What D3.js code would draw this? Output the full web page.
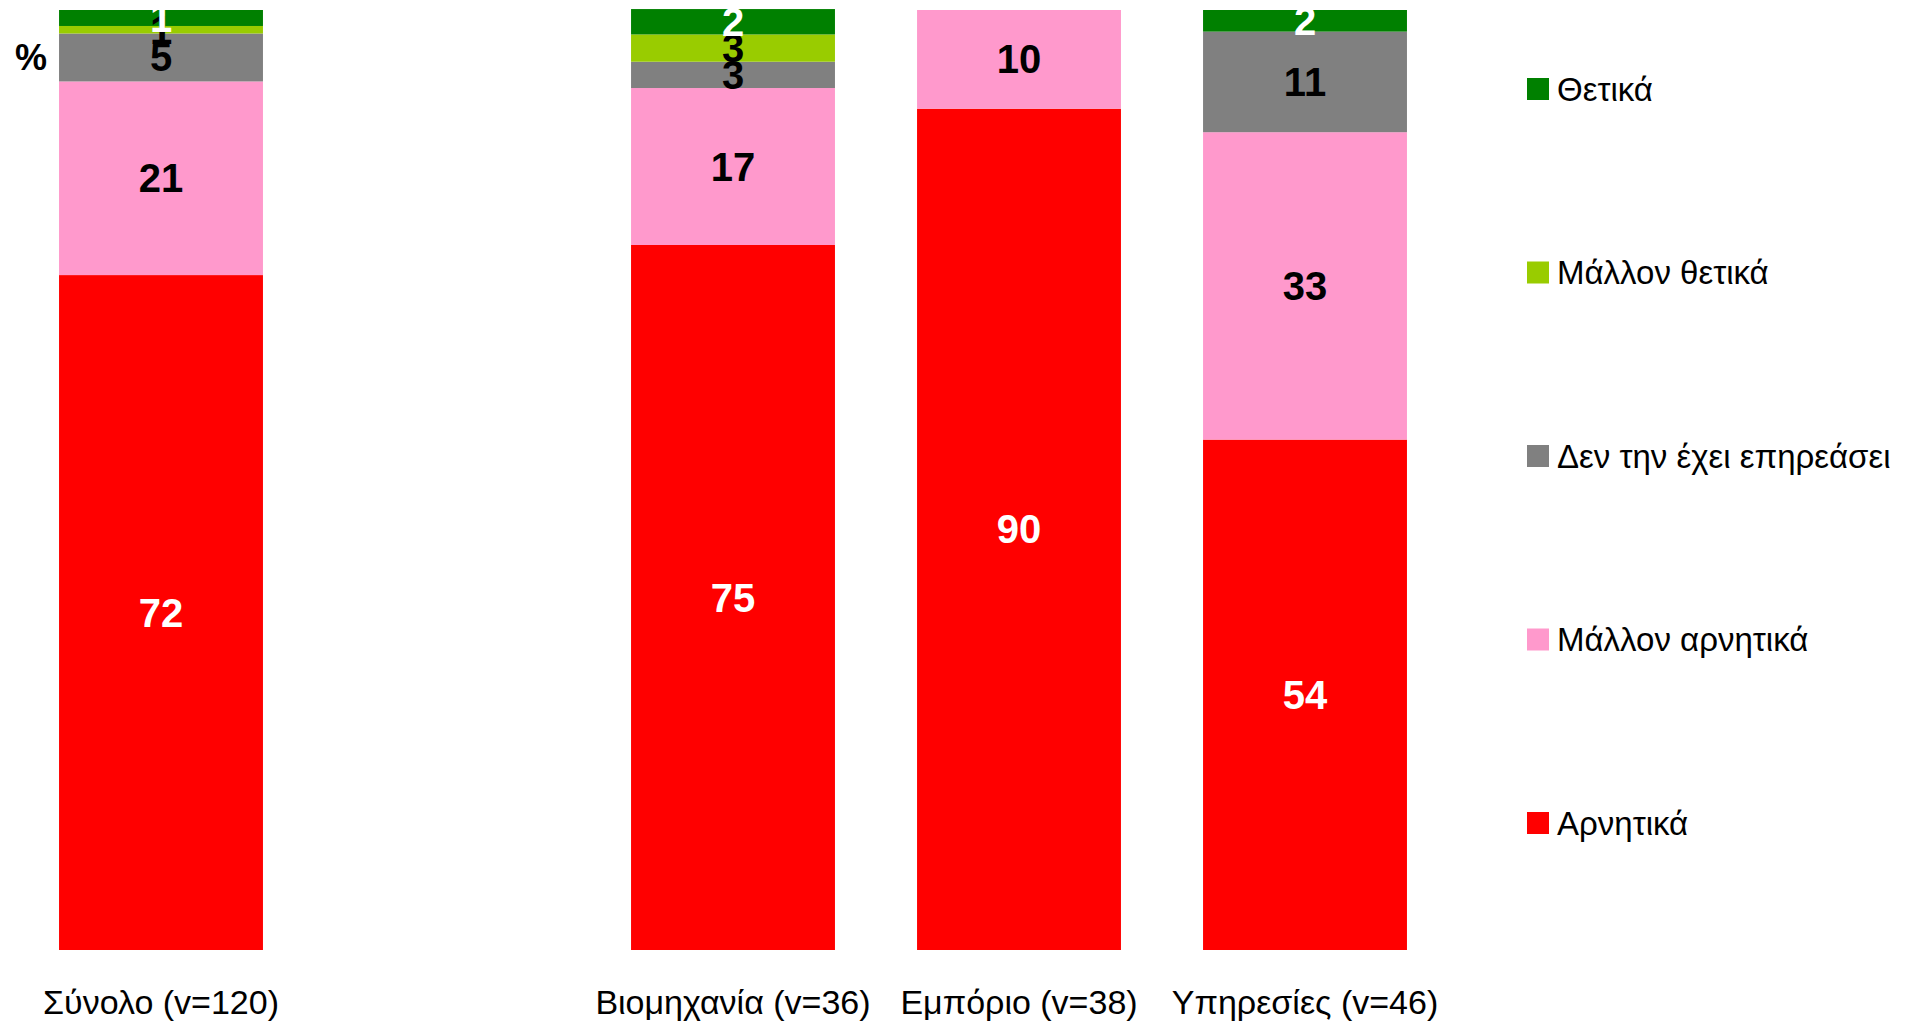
<!DOCTYPE html>
<html><head><meta charset="utf-8">
<script src="https://cdn.jsdelivr.net/npm/d3@7"></script>
<style>html,body{margin:0;padding:0;background:#fff;}svg{display:block;}</style>
</head><body>
<svg id="chart" width="1910" height="1024"></svg>
<script>
// Categories (blank slot between Σύνολο and the sector bars)
const categories = ["Σύνολο (v=120)", "", "Βιομηχανία (v=36)", "Εμπόριο (v=38)", "Υπηρεσίες (v=46)"];
// Series names (legend order top to bottom)
const seriesNames = ["Θετικά", "Μάλλον θετικά", "Δεν την έχει επηρεάσει", "Μάλλον αρνητικά", "Αρνητικά"];
const seriesColors = ["#008000", "#99CC00", "#808080", "#FF99CC", "#FF0000"];
const labelColors = ["#ffffff", "#000000", "#000000", "#000000", "#ffffff"];
// Values (%)
const thetika       = [1.7, null, 2.7, 0, 2.3];
const mallonThetika = [0.8, null, 2.9, 0, 0];
const denEpireasei  = [5.1, null, 2.8, 0, 10.7];
const mallonArn     = [20.6, null, 16.7, 10.5, 32.7];
const arnitika      = [71.8, null, 75.0, 89.5, 54.3];
// Printed data labels
const thetikaLbl       = ["1", null, "2", null, "2"];
const mallonThetikaLbl = ["1", null, "3", null, null];
const denEpireaseiLbl  = ["5", null, "3", null, "11"];
const mallonArnLbl     = ["21", null, "17", "10", "33"];
const arnitikaLbl      = ["72", null, "75", "90", "54"];

const seriesValues = [thetika, mallonThetika, denEpireasei, mallonArn, arnitika];
const seriesLabels = [thetikaLbl, mallonThetikaLbl, denEpireaseiLbl, mallonArnLbl, arnitikaLbl];

const svg = d3.select("#chart");
const x = d3.scaleBand().domain(categories).range([18, 1448]).paddingInner(0.287).paddingOuter(0.1435);
const y = d3.scaleLinear().domain([0, 100]).range([950, 10]);

// stack bottom (Αρνητικά) to top (Θετικά)
const stackOrder = [4, 3, 2, 1, 0];
const rows = categories.map((c, i) => {
  const r = {cat: c};
  seriesNames.forEach((s, k) => r[s] = seriesValues[k][i] || 0);
  return r;
});
const stack = d3.stack().keys(stackOrder.map(k => seriesNames[k]));
const stacked = stack(rows);

const gBars = svg.append("g");
stacked.forEach(layer => {
  const k = seriesNames.indexOf(layer.key);
  gBars.selectAll(null).data(layer.filter((d, i) => categories[i] !== "" && seriesValues[k][i] > 0))
    .join("rect")
    .attr("x", d => x(d.data.cat))
    .attr("width", x.bandwidth())
    .attr("y", d => y(d[1]))
    .attr("height", d => y(d[0]) - y(d[1]))
    .attr("fill", seriesColors[k]);
});

// labels
const gLbl = svg.append("g");
stacked.forEach(layer => {
  const k = seriesNames.indexOf(layer.key);
  layer.forEach((d, i) => {
    const lbl = seriesLabels[k][i];
    if (!lbl) return;
    gLbl.append("text")
      .attr("x", x(d.data.cat) + x.bandwidth() / 2)
      .attr("y", (y(d[0]) + y(d[1])) / 2)
      .attr("text-anchor", "middle")
      .attr("dominant-baseline", "central")
      .attr("font-family", "Liberation Sans, Arial, sans-serif")
      .attr("font-weight", "bold")
      .attr("font-size", 40)
      .attr("fill", labelColors[k])
      .text(lbl);
  });
});

// x axis labels
const xAxis = d3.axisBottom(x).tickSize(0).tickPadding(0);
const gx = svg.append("g").attr("transform", "translate(0,990)").call(xAxis);
gx.select(".domain").remove();
gx.selectAll("text")
  .attr("font-family", "Liberation Sans, Arial, sans-serif")
  .attr("font-size", 34)
  .attr("fill", "#000");

// % label
svg.append("text").attr("x", 31).attr("y", 57)
  .attr("text-anchor", "middle").attr("dominant-baseline", "central")
  .attr("font-family", "Liberation Sans, Arial, sans-serif").attr("font-weight", "bold")
  .attr("font-size", 36).text("%");

// legend
const legendY = d3.scalePoint().domain(seriesNames).range([89, 823]);
const gLeg = svg.append("g");
seriesNames.forEach((s, k) => {
  const cy = legendY(s);
  gLeg.append("rect").attr("x", 1527).attr("y", cy - 11).attr("width", 22).attr("height", 22).attr("fill", seriesColors[k]);
  gLeg.append("text")
    .attr("x", 1557).attr("y", cy)
    .attr("dominant-baseline", "central")
    .attr("font-family", "Liberation Sans, Arial, sans-serif")
    .attr("font-size", 33)
    .attr("fill", "#000")
    .text(s);
});
</script>
</body></html>
